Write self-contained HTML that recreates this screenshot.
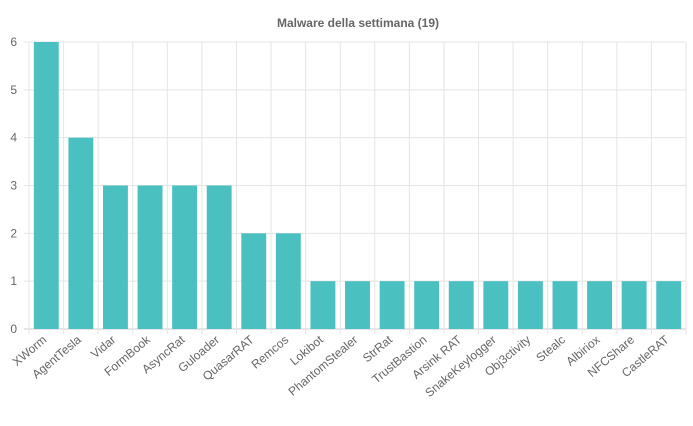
<!DOCTYPE html>
<html><head><meta charset="utf-8"><style>
body{margin:0;background:#fff;width:693px;height:421px;overflow:hidden;font-family:"Liberation Sans",sans-serif}
</style></head><body>
<svg id="chart" width="693" height="421" xmlns="http://www.w3.org/2000/svg">
<text x="358" y="27" text-anchor="middle" font-size="12" font-weight="bold" fill="#666">Malware della settimana (19)</text>
<g id="grid"></g><g id="bars"></g><g id="labels"></g>
</svg>
<script>
const categories=["XWorm","AgentTesla","Vidar","FormBook","AsyncRat","Guloader","QuasarRAT","Remcos","Lokibot","PhantomStealer","StrRat","TrustBastion","Arsink RAT","SnakeKeylogger","Obj3ctivity","Stealc","Albiriox","NFCShare","CastleRAT"];
const values=[6,4,3,3,3,3,2,2,1,1,1,1,1,1,1,1,1,1,1];
const yTicks=[0,1,2,3,4,5,6];
const NS="http://www.w3.org/2000/svg";
const L=29,R=686,T=42,B=329,yMax=6;
const bw=(R-L)/categories.length;
const y=v=>B-(B-T)*v/yMax;
const x=i=>L+bw*i;
function mk(tag,attrs,parent){const e=document.createElementNS(NS,tag);for(const k in attrs)e.setAttribute(k,attrs[k]);parent.appendChild(e);return e;}
const grid=document.getElementById('grid'),bars=document.getElementById('bars'),labels=document.getElementById('labels');
yTicks.forEach(t=>{
  const l=mk('line',{x1:L-5,x2:R,y1:y(t),y2:y(t),stroke:t===0?'#ccc':'#e5e5e5','stroke-width':1},grid);
  
  
  const tx=mk('text',{x:L-12,y:y(t)+4,'text-anchor':'end','font-size':12,fill:'#666'},labels);
  tx.textContent=t;
  
  
});
for(let i=0;i<=categories.length;i++){
  const l=mk('line',{x1:x(i),x2:x(i),y1:T,y2:B+5,stroke:'#e5e5e5','stroke-width':1},grid);
  
  
}
categories.forEach((c,i)=>{
  const w=bw*0.72, cx=x(i)+bw/2;
  const r=mk('rect',{x:cx-w/2,y:y(values[i]),width:w,height:B-y(values[i]),fill:'#4bc0c0'},bars);
  
  
  const ax=cx+1, ay=B+12;
  const t=mk('text',{x:ax,y:ay,'text-anchor':'end','font-size':12,fill:'#666',transform:`rotate(-40 ${ax} ${ay})`},labels);
  t.textContent=c;
  
  
});
</script>
</body></html>
